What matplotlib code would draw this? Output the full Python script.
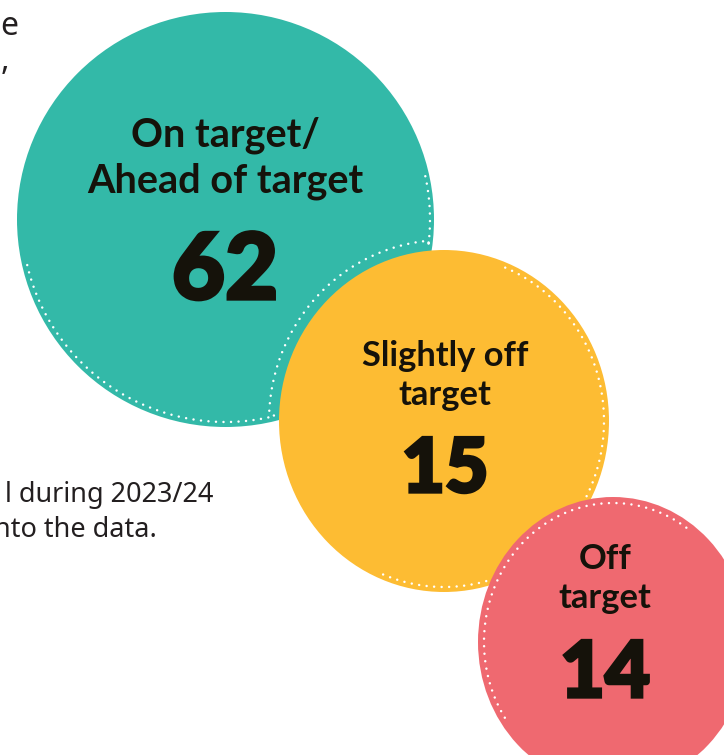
import numpy as np
import matplotlib
matplotlib.use("Agg")
import matplotlib.pyplot as plt
from matplotlib.patches import Ellipse
import matplotlib.patheffects as pe

# ---- data ----
categories = ["On target/\nAhead of target", "Slightly off\ntarget", "Off\ntarget"]
values = [62, 15, 14]
colors = ["#33B9A8", "#FDBC33", "#EF6970"]
side_text = ["e", ",", "l during 2023/24", "nto the data."]

# ---- layout (pixel coordinates, y downwards) ----
centers = [(225.5, 219.5), (444, 421), (613, 642)]
radii = [(208.5, 207.5), (165, 171), (135, 145)]
text_x = [225, 445, 605]
label_baselines = [(147, 193), (366, 405), (569, 608)]
number_baselines = [299, 492, 697]
label_sizes = [28.5, 24.8, 24.8]
number_sizes = [66, 54, 56]
TXT = "#15120a"
FONT = ["Lato", "DejaVu Sans"]
BODY_FONT = ["Noto Sans", "DejaVu Sans"]

fig = plt.figure(figsize=(7.24, 7.55), dpi=100)
ax = fig.add_axes([0, 0, 1, 1])
ax.set_xlim(0, 724)
ax.set_ylim(755, 0)
ax.axis("off")


def arc(c, r, t0, t1, dr=0.0):
    t = np.radians(np.linspace(t0, t1, 300))
    return c[0] + (r[0] + dr) * np.cos(t), c[1] + (r[1] + dr) * np.sin(t)


dot_kw = dict(color="white", lw=1.8, ls=(0, (0.01, 3.0)),
              dash_capstyle="round", solid_capstyle="round")

for i, (cat, val, col) in enumerate(zip(categories, values, colors)):
    z = 2 + 3 * i
    ax.add_patch(Ellipse(centers[i], 2 * radii[i][0], 2 * radii[i][1],
                         facecolor=col, edgecolor="none", zorder=z))
    for line, yb in zip(cat.split("\n"), label_baselines[i]):
        ax.text(text_x[i], yb, line, ha="center", va="baseline",
                fontsize=label_sizes[i], fontweight="bold", color=TXT,
                family=FONT, zorder=z + 2)
    ax.text(text_x[i], number_baselines[i], str(val), ha="center",
            va="baseline", fontsize=number_sizes[i], fontweight="black",
            color=TXT, family=FONT, zorder=z + 2,
            path_effects=[pe.withStroke(linewidth=2.4, foreground=TXT,
                                        joinstyle="miter")])

# dotted outlines
x1, y1 = arc(centers[0], radii[0], 167, 76, dr=-5)
x2, y2 = arc(centers[1], radii[1], 182.6, 265, dr=10)
x3, y3 = arc(centers[0], radii[0], 7.7, -13, dr=-4)
ax.plot(np.concatenate([x1, x2, x3]), np.concatenate([y1, y2, y3]),
        zorder=3, **dot_kw)
xs, ys = arc(centers[1], radii[1], -67.5, 115, dr=-5)
ax.plot(xs, ys, zorder=6, **dot_kw)
xr, yr = arc(centers[2], radii[2], 147, 306, dr=-6)
ax.plot(xr, yr, zorder=9, **dot_kw)

# cut-off body text on the left
body_pos = [(18, 35), (9, 70), (213, 502), (157, 537)]
body_sizes = [23, 23, 19.5, 19.5]
for s, (x, y), fs in zip(side_text, body_pos, body_sizes):
    ax.text(x, y, s, ha="right", va="baseline", fontsize=fs,
            color="#231f20", family=BODY_FONT, zorder=1)

fig.savefig("out.png", dpi=100)
